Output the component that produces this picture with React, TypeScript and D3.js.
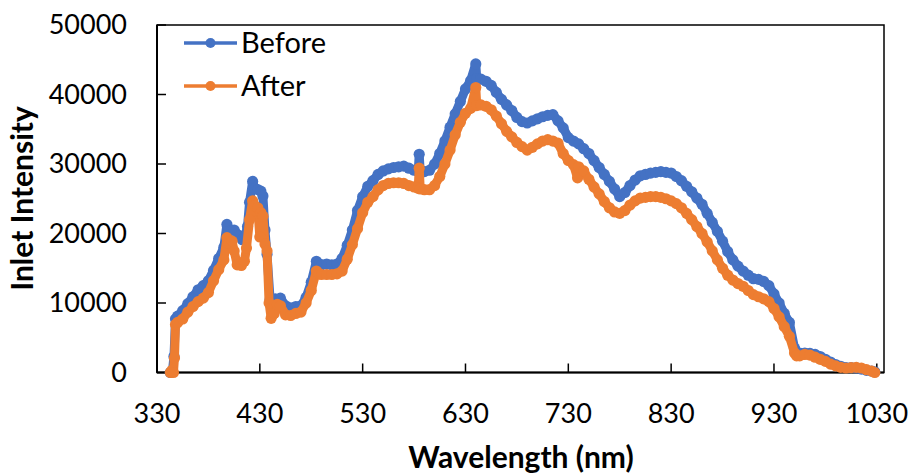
import React from 'react';
import * as d3 from 'd3';

const xTickValues = [330, 430, 530, 630, 730, 830, 930, 1030];
const yTickValues = [0, 10000, 20000, 30000, 40000, 50000];
const seriesNames = ['Before', 'After'];
const seriesColors = ['#4472C4', '#ED7D31'];

const beforeNm = [343,345,346.5,348,350,355,360,365,370,375,380,385,390,395,398,400,405,410,413,416,418,420,423,425,428,431,433,435,437,440,443,445,450,455,460,465,470,475,480,485,488,490,495,500,505,510,515,520,525,530,535,540,545,550,555,560,565,570,575,580,584,585,586,590,595,600,605,610,615,620,625,630,635,640,641,645,650,655,660,665,670,675,680,685,690,695,700,705,710,715,720,725,730,735,740,745,750,755,760,765,770,775,780,785,790,795,800,805,810,815,820,825,830,835,840,845,850,855,860,865,870,875,880,885,890,895,900,905,910,915,920,925,930,935,940,945,950,952,955,960,965,970,975,980,985,990,995,1000,1005,1010,1015,1020,1025,1028];
const beforeVal = [0,200,2300,7700,8100,8900,9900,10900,11900,12500,13200,14700,16400,18000,21300,20300,20500,19700,19100,19800,21000,24500,27500,26500,26300,26100,25400,20500,17000,10500,9500,10600,10700,9600,9300,9500,9600,10800,13000,16000,15600,15500,15600,15500,15600,16400,18300,20500,23300,25300,26800,27600,28500,29000,29300,29500,29600,29700,29400,29100,28900,31400,28800,28900,29100,30000,31500,33300,35300,37200,39000,40800,42000,44400,42300,42200,41900,41300,40300,39300,38500,37700,36700,36100,35900,36200,36500,36800,37000,37100,36200,35200,33800,33300,32900,32200,31500,30500,29500,28500,27500,26400,25300,25900,26900,27700,28300,28500,28700,28800,28900,28800,28700,28200,27600,26800,26000,25100,24200,22900,21600,20300,18900,17400,16200,15300,14600,14000,13500,13400,13100,12500,11300,10000,8500,7200,3500,2700,2800,2800,2750,2600,2300,1900,1500,1150,900,700,700,650,500,300,200,100];

const afterNm = [343,344.5,346,347,348,350,355,360,365,370,375,380,385,390,395,398,400,403,405,408,412,415,417,420,423,425,428,430,431,433,435,437,439,441,444,447,450,455,460,465,470,475,480,485,488,490,495,500,505,510,515,520,525,530,535,540,545,550,555,560,565,570,575,580,584,585,586,590,595,600,605,610,615,620,625,630,635,640,641,645,650,655,660,665,670,675,680,685,690,695,700,705,710,715,720,725,730,735,739,740,745,750,755,760,765,770,775,780,785,790,795,800,805,810,815,820,825,830,835,840,845,850,855,860,865,870,875,880,885,890,895,900,905,910,915,920,925,930,935,940,945,950,952,955,960,965,970,975,980,985,990,995,1000,1005,1010,1015,1020,1025,1028];
const afterVal = [0,300,0,2100,6900,7200,7700,8700,9500,10200,10700,11500,13200,14800,16200,19400,18600,18900,17500,15500,15400,16000,17900,22000,24700,24000,23700,19500,23000,22500,18500,17500,10000,7800,8500,9800,9600,8300,8200,8500,8700,10000,11800,14600,14200,14100,14100,14100,14200,14600,16300,18400,20700,23000,24500,25300,26300,26900,27200,27300,27300,27200,26900,26700,26500,29400,26400,26300,26300,26900,28200,30000,32000,34200,36000,37300,38000,41000,38400,38500,38300,37800,36900,35800,34700,33900,33100,32500,32000,32400,32900,33300,33500,33300,33000,31500,30500,29900,28000,29600,29000,27800,26700,25700,24600,23700,23100,22900,23300,24100,24700,25100,25200,25300,25300,25200,25000,24700,24300,23700,22900,22000,21000,20000,18800,17500,16200,15000,14000,13300,12800,12400,11800,11200,10900,10600,10200,9200,8000,6600,5200,2800,2400,2400,2600,2500,2200,1900,1600,1200,950,750,650,700,750,650,400,200,0];

const xTitle = 'Wavelength (nm)';
const yTitle = 'Inlet Intensity';

const FONT = 'Lato, "Open Sans", sans-serif';

export default function App() {
  const W = 911, H = 473;
  const left = 157, right = 884, top = 25, bottom = 372.5;
  const x = d3.scaleLinear().domain([330, 1037]).range([left, right]);
  const y = d3.scaleLinear().domain([0, 50000]).range([bottom, top]);
  const line = d3.line<[number, number]>().x(d => x(d[0])).y(d => y(d[1]));

  const series = [
    beforeNm.map((n, i) => [n, beforeVal[i]] as [number, number]),
    afterNm.map((n, i) => [n, afterVal[i]] as [number, number]),
  ];

  return (
    <svg width={W} height={H} style={{ position: 'absolute', left: 0, top: 0, background: '#fff' }} fontFamily={FONT}>
      <rect x={0} y={0} width={W} height={H} fill="#fff" />
      <rect x={left} y={top} width={right - left} height={bottom - top} fill="none" stroke="#000" strokeWidth={1.5} />
      <line x1={left} x2={left} y1={top} y2={bottom} stroke="#000" strokeWidth={2} />
      <line x1={left} x2={right} y1={bottom} y2={bottom} stroke="#000" strokeWidth={2} />
      {yTickValues.map(v => (
        <g key={'y' + v}>
          <line x1={left} x2={left + 9} y1={y(v)} y2={y(v)} stroke="#000" strokeWidth={1.5} />
          <text x={127} y={y(v)} dy="0.35em" textAnchor="end" fontSize={27} fill="#000">{v}</text>
        </g>
      ))}
      {xTickValues.map(v => (
        <g key={'x' + v}>
          <line x1={x(v)} x2={x(v)} y1={bottom} y2={bottom - 9} stroke="#000" strokeWidth={1.5} />
          <text x={x(v)} y={423} textAnchor="middle" fontSize={27} fill="#000">{v}</text>
        </g>
      ))}
      {series.map((pts, si) => (
        <g key={'s' + si}>
          <path d={line(pts) || ''} fill="none" stroke={seriesColors[si]} strokeWidth={9} strokeLinejoin="round" strokeLinecap="round" />
          {pts.map((p, i) => (
            <circle key={i} cx={x(p[0])} cy={y(p[1])} r={5.6} fill={seriesColors[si]} />
          ))}
        </g>
      ))}
      {seriesNames.map((name, i) => {
        const ly = [43, 86][i];
        return (
          <g key={'l' + i}>
            <line x1={184} x2={237} y1={ly} y2={ly} stroke={seriesColors[i]} strokeWidth={3.5} />
            <circle cx={210.5} cy={ly} r={5} fill={seriesColors[i]} />
            <text x={241} y={ly + 10} fontSize={29} fill="#000">{name}</text>
          </g>
        );
      })}
      <text x={521} y={468} textAnchor="middle" fontSize={30} fontWeight="bold" fill="#000">{xTitle}</text>
      <text transform={`translate(33,198.5) rotate(-90)`} textAnchor="middle" fontSize={30} fontWeight="bold" fill="#000">{yTitle}</text>
    </svg>
  );
}
